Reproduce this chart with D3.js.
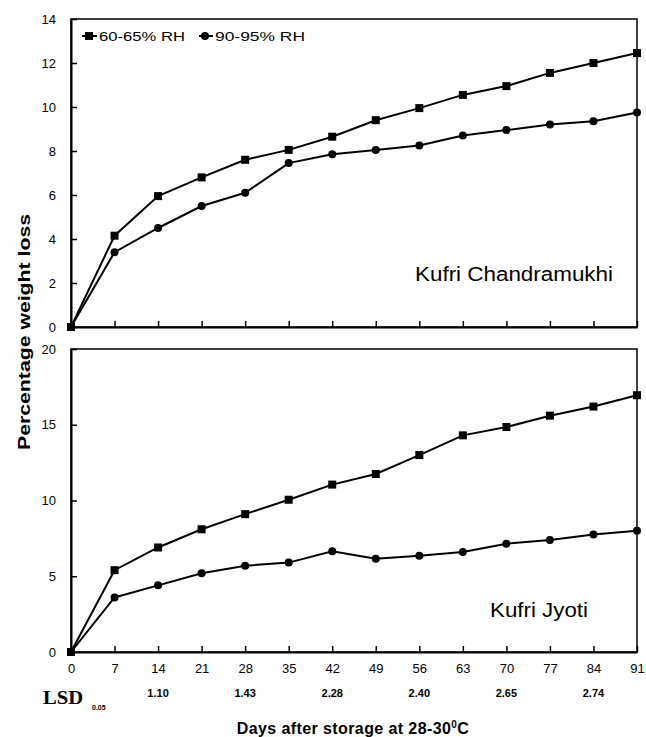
<!DOCTYPE html>
<html>
<head>
<meta charset="utf-8">
<script src="https://cdn.jsdelivr.net/npm/d3@7"></script>
<style>
    body { margin: 0; background: #fff; }
    text { font-family: "Liberation Sans", Arial, sans-serif; fill: #000; }
</style>
</head>
<body>
<svg id="chart" width="646" height="737"></svg>
<script>
// Days after storage
const days = [0, 7, 14, 21, 28, 35, 42, 49, 56, 63, 70, 77, 84, 91];

// Kufri Chandramukhi
const chandraLowRH  = [0, 4.15, 5.95, 6.8, 7.6, 8.05, 8.65, 9.4, 9.95, 10.55, 10.95, 11.55, 12.0, 12.45];
const chandraHighRH = [0, 3.4, 4.5, 5.5, 6.1, 7.45, 7.85, 8.05, 8.25, 8.7, 8.95, 9.2, 9.35, 9.75];

// Kufri Jyoti
const jyotiLowRH  = [0, 5.4, 6.9, 8.1, 9.1, 10.05, 11.05, 11.75, 13.0, 14.3, 14.85, 15.6, 16.2, 16.95];
const jyotiHighRH = [0, 3.6, 4.4, 5.2, 5.7, 5.9, 6.65, 6.15, 6.35, 6.6, 7.15, 7.4, 7.75, 8.0];

const seriesNames = ["60-65% RH", "90-95% RH"];

// LSD (0.05) values printed under the axis
const lsdDays = [14, 28, 42, 56, 70, 84];
const lsdValues = ["1.10", "1.43", "2.28", "2.40", "2.65", "2.74"];

const svg = d3.select("#chart");

const x = d3.scaleLinear().domain([0, 91]).range([71, 637]);

const panels = [
    { name: "Kufri Chandramukhi", top: 19, bottom: 327, max: 14, ticks: d3.range(0, 15, 2),
      low: chandraLowRH, high: chandraHighRH, labelX: 415, labelY: 281, labelW: 198 },
    { name: "Kufri Jyoti", top: 349, bottom: 652, max: 20, ticks: d3.range(0, 21, 5),
      low: jyotiLowRH, high: jyotiHighRH, labelX: 490, labelY: 617, labelW: 98 }
];

function drawMarker(g, kind, cx, cy) {
    if (kind === 0) {
        g.append("rect")
            .attr("x", cx - 4).attr("y", cy - 4)
            .attr("width", 8).attr("height", 8)
            .attr("fill", "#000");
    } else {
        g.append("circle")
            .attr("cx", cx).attr("cy", cy).attr("r", 4)
            .attr("fill", "#000");
    }
}

panels.forEach((p, i) => {
    const y = d3.scaleLinear().domain([0, p.max]).range([p.bottom, p.top]);
    const g = svg.append("g");

    // frame
    g.append("rect")
        .attr("x", x(0)).attr("y", p.top)
        .attr("width", x(91) - x(0)).attr("height", p.bottom - p.top)
        .attr("fill", "none")
        .attr("stroke", "#000")
        .attr("stroke-width", 1.5);

    // x-axis (ticks point inward)
    const xAxis = g.append("g")
        .attr("transform", `translate(0,${p.bottom})`)
        .call(d3.axisBottom(x)
            .tickValues(days)
            .tickSizeInner(-6)
            .tickSizeOuter(0)
            .tickPadding(12)
            .tickFormat(i === 1 ? d3.format("d") : () => ""));
    xAxis.select(".domain").attr("stroke-width", 2);
    xAxis.selectAll(".tick line").attr("stroke-width", 1.5);
    xAxis.selectAll("text").style("font-size", "13px").attr("fill", "#000");

    // y-axis
    const yAxis = g.append("g")
        .attr("transform", `translate(${x(0)},0)`)
        .call(d3.axisLeft(y)
            .tickValues(p.ticks)
            .tickSizeInner(-6)
            .tickSizeOuter(0)
            .tickPadding(15));
    yAxis.select(".domain").attr("stroke-width", 2);
    yAxis.selectAll(".tick line").attr("stroke-width", 1.5);
    yAxis.selectAll("text").style("font-size", "13px").attr("fill", "#000");

    // series
    [p.low, p.high].forEach((vals, k) => {
        const pts = days.map((d, j) => [x(d), y(vals[j])]);
        g.append("path")
            .attr("d", d3.line()(pts))
            .attr("fill", "none")
            .attr("stroke", "#000")
            .attr("stroke-width", 2);
        pts.forEach(pt => drawMarker(g, k, pt[0], pt[1]));
    });

    // cultivar name
    g.append("text")
        .attr("x", p.labelX).attr("y", p.labelY)
        .attr("textLength", p.labelW)
        .attr("lengthAdjust", "spacingAndGlyphs")
        .style("font-size", "20px")
        .text(p.name);
});

// legend
const legend = svg.append("g");
const legendItems = [
    { x1: 82, x2: 97, mx: 89, tx: 97, tw: 88 },
    { x1: 199, x2: 213, mx: 205, tx: 213, tw: 92 }
];
legendItems.forEach((it, k) => {
    legend.append("line")
        .attr("x1", it.x1).attr("x2", it.x2)
        .attr("y1", 36).attr("y2", 36)
        .attr("stroke", "#000").attr("stroke-width", 2);
    drawMarker(legend, k, it.mx, 36);
    legend.append("text")
        .attr("x", it.tx + 2).attr("y", 41)
        .attr("textLength", it.tw - 2)
        .attr("lengthAdjust", "spacingAndGlyphs")
        .style("font-size", "13px")
        .text(seriesNames[k]);
});

// LSD row
svg.append("text")
    .attr("x", 43).attr("y", 704)
    .attr("textLength", 40)
    .attr("lengthAdjust", "spacingAndGlyphs")
    .style("font-family", "'Liberation Serif', 'Times New Roman', serif")
    .style("font-weight", "bold")
    .style("font-size", "18px")
    .text("LSD");
svg.append("text")
    .attr("x", 92).attr("y", 710)
    .style("font-size", "7px")
    .style("font-weight", "bold")
    .text("0.05");
svg.append("g")
    .selectAll("text")
    .data(lsdDays)
    .join("text")
        .attr("x", d => x(d))
        .attr("y", 697)
        .attr("text-anchor", "middle")
        .style("font-size", "11px")
        .style("font-weight", "bold")
        .text((d, j) => lsdValues[j]);

// x-axis title
const xt = svg.append("text")
    .attr("x", 353).attr("y", 734)
    .attr("text-anchor", "middle")
    .style("font-size", "16px")
    .style("font-weight", "bold")
    .style("letter-spacing", "0.4px");
xt.append("tspan").text("Days after storage at 28-30");
xt.append("tspan").attr("dy", -6).style("font-size", "10px").text("0");
xt.append("tspan").attr("dy", 6).text("C");

// y-axis title
svg.append("text")
    .attr("transform", "translate(30,332) rotate(-90)")
    .attr("text-anchor", "middle")
    .attr("textLength", 236)
    .attr("lengthAdjust", "spacingAndGlyphs")
    .style("font-size", "17px")
    .style("font-weight", "bold")
    .text("Percentage weight loss");
</script>
</body>
</html>
